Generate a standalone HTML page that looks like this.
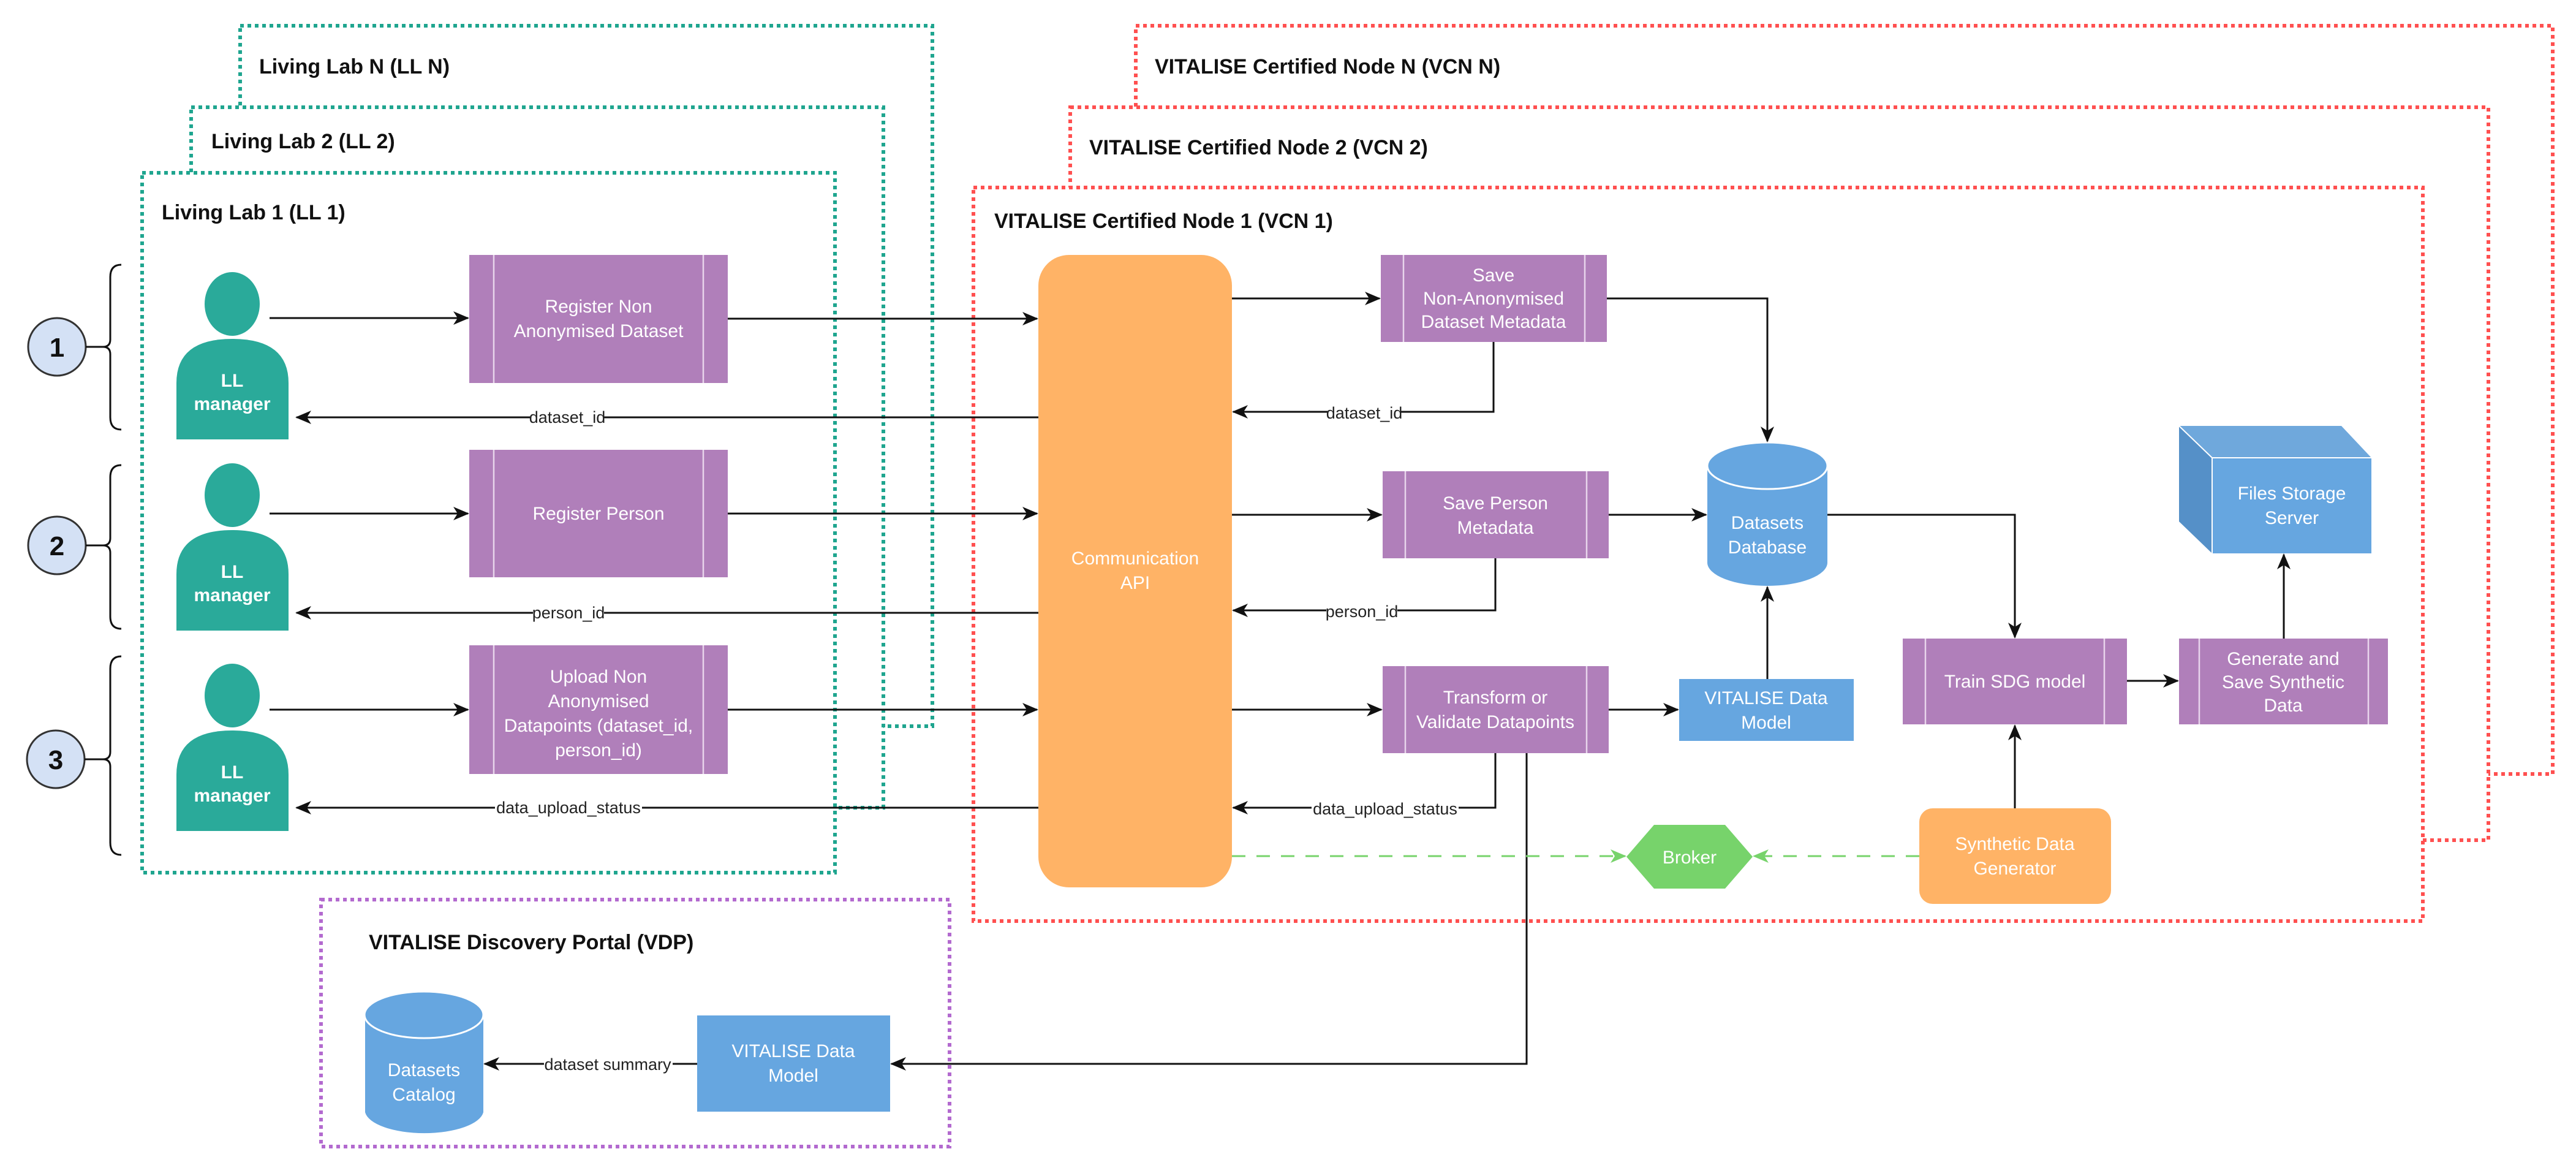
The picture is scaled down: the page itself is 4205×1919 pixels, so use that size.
<!DOCTYPE html>
<html><head><meta charset="utf-8"><style>
html,body{margin:0;padding:0;background:#fff;}
svg{display:block;}
text{font-family:"Liberation Sans",Arial,sans-serif;}
.t{fill:#fff;font-size:30px;text-anchor:middle;}
.h{fill:#111;font-size:34px;font-weight:bold;}
.e{fill:#222;font-size:27px;text-anchor:middle;}
.ln{stroke:#111;stroke-width:3;fill:none;}
</style></head><body>
<svg width="4205" height="1919" viewBox="0 0 4205 1919" xmlns="http://www.w3.org/2000/svg">
<defs>
<marker id="A" markerWidth="26" markerHeight="26" refX="24" refY="13" orient="auto" markerUnits="userSpaceOnUse"><path d="M0,2 L26,13 L0,24 L7,13 Z" fill="#111"/></marker>
<marker id="G" markerWidth="26" markerHeight="26" refX="24" refY="13" orient="auto" markerUnits="userSpaceOnUse"><path d="M0,2 L26,13 L0,24 L7,13 Z" fill="#77D36B"/></marker>
</defs>

<!-- containers back to front, white fill occludes -->
<g fill="#fff" stroke="#1FA58F" stroke-width="6" stroke-dasharray="6 6">
<rect x="392" y="42" width="1130" height="1143"/>
<rect x="312" y="175" width="1130" height="1143"/>
<rect x="232" y="282" width="1131" height="1142"/>
</g>
<g fill="#fff" stroke="#FF5050" stroke-width="6" stroke-dasharray="6 6">
<rect x="1854" y="42" width="2313" height="1221"/>
<rect x="1747" y="175" width="2315" height="1196"/>
<rect x="1589" y="306" width="2366" height="1197"/>
</g>
<rect x="524" y="1468" width="1026" height="403" fill="#fff" stroke="#B36ACF" stroke-width="6" stroke-dasharray="6 6"/>

<text class="h" x="423" y="120">Living Lab N (LL N)</text>
<text class="h" x="345" y="242">Living Lab 2 (LL 2)</text>
<text class="h" x="264" y="358">Living Lab 1 (LL 1)</text>
<text class="h" x="1885" y="120">VITALISE Certified Node N (VCN N)</text>
<text class="h" x="1778" y="252">VITALISE Certified Node 2 (VCN 2)</text>
<text class="h" x="1623" y="372">VITALISE Certified Node 1 (VCN 1)</text>
<text class="h" x="602" y="1549">VITALISE Discovery Portal (VDP)</text>

<!-- circles and braces -->
<g stroke="#333" stroke-width="3" fill="#D4E1F5">
<circle cx="93" cy="566" r="47"/>
<circle cx="93" cy="890" r="47"/>
<circle cx="91" cy="1239" r="47"/>
</g>
<g font-size="44" font-weight="bold" text-anchor="middle" fill="#111">
<text x="93" y="582">1</text><text x="93" y="906">2</text><text x="91" y="1255">3</text>
</g>
<g class="ln" stroke-width="2.5">
<path d="M198 432 Q180 432 180 452 L180 554 Q180 566 168 566 L140 566 M168 566 Q180 566 180 578 L180 681 Q180 701 198 701"/>
<path d="M198 759 Q180 759 180 779 L180 878 Q180 890 168 890 L140 890 M168 890 Q180 890 180 902 L180 1006 Q180 1026 198 1026"/>
<path d="M198 1071 Q180 1071 180 1091 L180 1227 Q180 1239 168 1239 L138 1239 M168 1239 Q180 1239 180 1251 L180 1375 Q180 1395 198 1395"/>
</g>

<!-- persons -->
<g fill="#2AAA9A">
<ellipse cx="379" cy="496" rx="45" ry="52"/>
<path d="M288 717 L288 625 Q288 553 379 553 Q471 553 471 625 L471 717 Z"/>
<ellipse cx="379" cy="808" rx="45" ry="52"/>
<path d="M288 1029 L288 937 Q288 865 379 865 Q471 865 471 937 L471 1029 Z"/>
<ellipse cx="379" cy="1135" rx="45" ry="52"/>
<path d="M288 1356 L288 1264 Q288 1192 379 1192 Q471 1192 471 1264 L471 1356 Z"/>
</g>
<g class="t" font-weight="bold">
<text x="379" y="631">LL</text><text x="379" y="669">manager</text>
<text x="379" y="943">LL</text><text x="379" y="981">manager</text>
<text x="379" y="1270">LL</text><text x="379" y="1308">manager</text>
</g>

<!-- purple process boxes -->
<g fill="#B07FBA">
<rect x="766" y="416" width="422" height="209"/>
<rect x="766" y="734" width="422" height="208"/>
<rect x="766" y="1053" width="422" height="210"/>
<rect x="2254" y="416" width="369" height="142"/>
<rect x="2257" y="769" width="369" height="142"/>
<rect x="2257" y="1087" width="369" height="142"/>
<rect x="3106" y="1042" width="366" height="140"/>
<rect x="3557" y="1042" width="341" height="140"/>
</g>
<g stroke="#E8D5EC" stroke-width="2.5">
<path d="M806 416V625M1148 416V625M806 734V942M1148 734V942M806 1053V1263M1148 1053V1263"/>
<path d="M2291 416V558M2587 416V558M2294 769V911M2590 769V911M2294 1087V1229M2590 1087V1229"/>
<path d="M3143 1042V1182M3435 1042V1182M3590 1042V1182M3866 1042V1182"/>
</g>
<g class="t">
<text x="977" y="510">Register Non</text><text x="977" y="550">Anonymised Dataset</text>
<text x="977" y="848">Register Person</text>
<text x="977" y="1114">Upload Non</text><text x="977" y="1154">Anonymised</text><text x="977" y="1194">Datapoints (dataset_id,</text><text x="977" y="1234">person_id)</text>
<text x="2438" y="459">Save</text><text x="2438" y="497">Non-Anonymised</text><text x="2438" y="535">Dataset Metadata</text>
<text x="2441" y="831">Save Person</text><text x="2441" y="871">Metadata</text>
<text x="2441" y="1148">Transform or</text><text x="2441" y="1188">Validate Datapoints</text>
<text x="3289" y="1122">Train SDG model</text>
<text x="3727" y="1085">Generate and</text><text x="3727" y="1123">Save Synthetic</text><text x="3727" y="1161">Data</text>
</g>

<!-- API -->
<rect x="1695" y="416" width="316" height="1032" rx="50" fill="#FFB366"/>
<text class="t" x="1853" y="921">Communication</text><text class="t" x="1853" y="961">API</text>

<!-- Datasets Database -->
<path d="M2787 760 L2787 918 A98 38 0 0 0 2983 918 L2983 760 Z" fill="#66A6E0"/>
<ellipse cx="2885" cy="760" rx="98" ry="38" fill="#66A6E0" stroke="#fff" stroke-width="3"/>
<text class="t" x="2885" y="863">Datasets</text><text class="t" x="2885" y="903">Database</text>

<!-- Datasets Catalog -->
<path d="M596 1656 L596 1815 A97 38 0 0 0 789 1815 L789 1656 Z" fill="#66A6E0"/>
<ellipse cx="692" cy="1656" rx="97" ry="38" fill="#66A6E0" stroke="#fff" stroke-width="3"/>
<text class="t" x="692" y="1756">Datasets</text><text class="t" x="692" y="1796">Catalog</text>

<!-- Data models -->
<rect x="2741" y="1108" width="285" height="101" fill="#66A6E0"/>
<text class="t" x="2883" y="1149">VITALISE Data</text><text class="t" x="2883" y="1189">Model</text>
<rect x="1138" y="1657" width="315" height="157" fill="#66A6E0"/>
<text class="t" x="1295" y="1725">VITALISE Data</text><text class="t" x="1295" y="1765">Model</text>

<!-- cube -->
<path d="M3557 695 L3822 695 L3871 747 L3611 747 Z" fill="#6FA8DC"/>
<path d="M3557 695 L3611 747 L3611 903 L3557 851 Z" fill="#5590C8"/>
<rect x="3611" y="747" width="260" height="156" fill="#66A6E0"/>
<path d="M3557 695 L3611 747 L3871 747 M3611 747 V903" stroke="#fff" stroke-width="2" fill="none"/>
<text class="t" x="3741" y="815">Files Storage</text><text class="t" x="3741" y="855">Server</text>

<!-- SDG -->
<rect x="3133" y="1319" width="313" height="156" rx="22" fill="#FFB366"/>
<text class="t" x="3289" y="1387">Synthetic Data</text><text class="t" x="3289" y="1427">Generator</text>

<!-- Broker -->
<path d="M2655 1398 L2700 1346 L2816 1346 L2861 1398 L2816 1450 L2700 1450 Z" fill="#77D36B"/>
<text class="t" x="2758" y="1409">Broker</text>

<!-- connectors -->
<g class="ln" marker-end="url(#A)">
<path d="M440 519 H764"/>
<path d="M1188 520 H1693"/>
<path d="M1695 681 H484"/>
<path d="M440 838 H764"/>
<path d="M1188 838 H1693"/>
<path d="M1695 1000 H484"/>
<path d="M440 1158 H764"/>
<path d="M1188 1158 H1693"/>
<path d="M1695 1318 H484"/>
<path d="M2011 487 H2252"/>
<path d="M2011 840 H2255"/>
<path d="M2011 1158 H2255"/>
<path d="M2438 558 V672 H2013"/>
<path d="M2441 911 V996 H2013"/>
<path d="M2441 1229 V1318 H2013"/>
<path d="M2623 487 H2885 V720"/>
<path d="M2626 840 H2785"/>
<path d="M2626 1158 H2739"/>
<path d="M2885 1108 V958"/>
<path d="M2983 840 H3289 V1040"/>
<path d="M3472 1111 H3555"/>
<path d="M3728 1042 V905"/>
<path d="M3289 1319 V1184"/>
<path d="M2492 1229 V1736 H1455"/>
<path d="M1138 1736 H791"/>
</g>
<g stroke="#77D36B" stroke-width="3" stroke-dasharray="22 18" fill="none" marker-end="url(#G)">
<path d="M2011 1397 H2653"/>
<path d="M3133 1397 H2863"/>
</g>

<!-- edge labels -->
<g>
<rect x="866" y="662" width="120" height="34" fill="#fff"/>
<text class="e" x="926" y="690">dataset_id</text>
<rect x="870" y="981" width="116" height="34" fill="#fff"/>
<text class="e" x="928" y="1009">person_id</text>
<rect x="808" y="1299" width="240" height="34" fill="#fff"/>
<text class="e" x="928" y="1327">data_upload_status</text>
<rect x="2167" y="655" width="120" height="34" fill="#fff"/>
<text class="e" x="2227" y="683">dataset_id</text>
<rect x="2165" y="979" width="116" height="34" fill="#fff"/>
<text class="e" x="2223" y="1007">person_id</text>
<rect x="2141" y="1301" width="240" height="34" fill="#fff"/>
<text class="e" x="2261" y="1329">data_upload_status</text>
<rect x="888" y="1718" width="210" height="34" fill="#fff"/>
<text class="e" x="992" y="1746">dataset summary</text>
</g>
</svg>
</body></html>
